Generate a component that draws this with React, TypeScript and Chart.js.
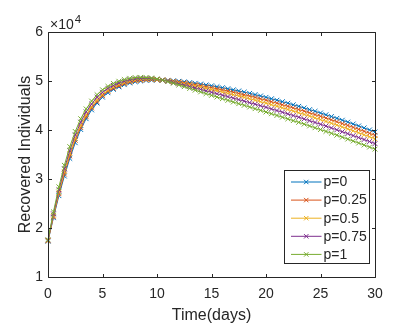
import React, { useEffect, useRef } from "react";
import { Chart, registerables } from "chart.js";

Chart.register(...registerables);

// Time axis (days)
const TIME_DAYS = [
  0, 0.5, 1, 1.5, 2, 2.5, 3, 3.5, 4, 4.5, 5, 5.5, 6, 6.5, 7, 7.5, 8, 8.5, 9, 9.5, 10,
  10.5, 11, 11.5, 12, 12.5, 13, 13.5, 14, 14.5, 15, 15.5, 16, 16.5, 17, 17.5, 18, 18.5, 19, 19.5, 20,
  20.5, 21, 21.5, 22, 22.5, 23, 23.5, 24, 24.5, 25, 25.5, 26, 26.5, 27, 27.5, 28, 28.5, 29, 29.5, 30,
];

// Recovered individuals, in units of 10^4
const P_0 = [
  1.73, 2.21, 2.66, 3.06, 3.42, 3.74, 4.01, 4.23, 4.41, 4.55, 4.67, 4.76, 4.83, 4.88, 4.925, 4.96, 4.985, 5.0, 5.012, 5.018, 5.02,
  5.018, 5.012, 5.004, 4.994, 4.982, 4.968, 4.953, 4.937, 4.92, 4.902, 4.883, 4.863, 4.842, 4.82, 4.797, 4.773, 4.748, 4.722, 4.695, 4.667,
  4.638, 4.608, 4.578, 4.547, 4.515, 4.483, 4.45, 4.416, 4.382, 4.347, 4.311, 4.275, 4.238, 4.2, 4.162, 4.123, 4.083, 4.043, 4.002, 3.96,
];
const P_025 = [
  1.74, 2.23, 2.7, 3.1, 3.47, 3.79, 4.05, 4.27, 4.45, 4.58, 4.7, 4.79, 4.85, 4.9, 4.946, 4.979, 5.002, 5.015, 5.024, 5.027, 5.025,
  5.018, 5.007, 4.994, 4.979, 4.962, 4.944, 4.925, 4.905, 4.884, 4.863, 4.841, 4.818, 4.795, 4.77, 4.745, 4.719, 4.692, 4.665, 4.636, 4.607,
  4.577, 4.546, 4.515, 4.483, 4.45, 4.418, 4.384, 4.349, 4.315, 4.279, 4.243, 4.207, 4.169, 4.131, 4.093, 4.053, 4.013, 3.973, 3.932, 3.89,
];
const P_05 = [
  1.74, 2.26, 2.73, 3.15, 3.52, 3.83, 4.1, 4.31, 4.48, 4.62, 4.73, 4.81, 4.88, 4.93, 4.967, 4.998, 5.019, 5.03, 5.036, 5.036, 5.029,
  5.018, 5.002, 4.984, 4.964, 4.943, 4.92, 4.897, 4.873, 4.849, 4.824, 4.799, 4.773, 4.747, 4.72, 4.693, 4.665, 4.636, 4.607, 4.577, 4.547,
  4.516, 4.484, 4.452, 4.419, 4.385, 4.352, 4.318, 4.283, 4.248, 4.212, 4.175, 4.138, 4.1, 4.062, 4.023, 3.984, 3.943, 3.903, 3.862, 3.82,
];
const P_075 = [
  1.75, 2.29, 2.78, 3.21, 3.58, 3.9, 4.16, 4.37, 4.53, 4.67, 4.77, 4.85, 4.91, 4.96, 4.996, 5.025, 5.043, 5.051, 5.053, 5.048, 5.036,
  5.018, 4.995, 4.97, 4.943, 4.915, 4.886, 4.858, 4.828, 4.799, 4.769, 4.74, 4.71, 4.681, 4.651, 4.62, 4.589, 4.558, 4.527, 4.495, 4.463,
  4.43, 4.397, 4.363, 4.329, 4.295, 4.261, 4.226, 4.19, 4.154, 4.117, 4.08, 4.042, 4.004, 3.965, 3.926, 3.886, 3.846, 3.805, 3.764, 3.722,
];
const P_1 = [
  1.76, 2.33, 2.84, 3.28, 3.66, 3.97, 4.23, 4.43, 4.59, 4.72, 4.82, 4.89, 4.95, 4.995, 5.03, 5.055, 5.07, 5.075, 5.072, 5.062, 5.043,
  5.018, 4.987, 4.954, 4.919, 4.884, 4.848, 4.813, 4.777, 4.742, 4.707, 4.673, 4.639, 4.605, 4.571, 4.537, 4.503, 4.469, 4.435, 4.401, 4.367,
  4.332, 4.297, 4.262, 4.227, 4.191, 4.156, 4.12, 4.083, 4.046, 4.009, 3.971, 3.933, 3.894, 3.854, 3.815, 3.775, 3.734, 3.693, 3.652, 3.61,
];

const SERIES = [P_0, P_025, P_05, P_075, P_1];
const SERIES_LABELS = ["p=0", "p=0.25", "p=0.5", "p=0.75", "p=1"];
const SERIES_COLORS = ["#0072BD", "#D95319", "#EDB120", "#7E2F8E", "#77AC30"];

const X_TICKS = [0, 5, 10, 15, 20, 25, 30];
const Y_TICKS = [1, 2, 3, 4, 5, 6];
const Y_EXPONENT = "4";
const X_TITLE = "Time(days)";
const Y_TITLE = "Recovered Individuals";

const FONT_FAMILY = "'Liberation Sans', Arial, Helvetica, sans-serif";
const AXIS_COLOR = "#262626";

const matlabFrame = {
  id: "matlabFrame",
  afterDatasetsDraw(chart: any) {
    const { ctx, chartArea: a, scales } = chart;
    const xs = scales.x;
    const ys = scales.y;
    const L = Math.round(a.left) + 0.5;
    const R = Math.round(a.right) + 0.5;
    const T = Math.round(a.top) + 0.5;
    const B = Math.round(a.bottom) + 0.5;
    const TICK = 3.5;
    ctx.save();
    ctx.strokeStyle = AXIS_COLOR;
    ctx.lineWidth = 1;
    ctx.beginPath();
    ctx.rect(L, T, R - L, B - T);
    X_TICKS.forEach((v) => {
      const px = Math.round(xs.getPixelForValue(v)) + 0.5;
      ctx.moveTo(px, B);
      ctx.lineTo(px, B - TICK);
      ctx.moveTo(px, T);
      ctx.lineTo(px, T + TICK);
    });
    Y_TICKS.forEach((v) => {
      const py = Math.round(ys.getPixelForValue(v)) + 0.5;
      ctx.moveTo(L, py);
      ctx.lineTo(L + TICK, py);
      ctx.moveTo(R, py);
      ctx.lineTo(R - TICK, py);
    });
    ctx.stroke();

    // exponent label
    ctx.fillStyle = AXIS_COLOR;
    ctx.textBaseline = "alphabetic";
    ctx.textAlign = "left";
    ctx.font = `14px ${FONT_FAMILY}`;
    const base = "\u00d710";
    ctx.fillText(base, a.left + 2, a.top - 3.5);
    const w = ctx.measureText(base).width;
    ctx.font = `11.5px ${FONT_FAMILY}`;
    ctx.fillText(Y_EXPONENT, a.left + 2 + w + 1, a.top - 9);

    // legend box
    const lw = 85;
    const lh = 93;
    const lx = Math.round(a.right - 6 - lw) + 0.5;
    const ly = Math.round(a.bottom - 14 - lh) + 0.5;
    ctx.fillStyle = "#ffffff";
    ctx.fillRect(lx, ly, lw, lh);
    ctx.strokeStyle = AXIS_COLOR;
    ctx.strokeRect(lx, ly, lw, lh);
    ctx.font = `14px ${FONT_FAMILY}`;
    ctx.textBaseline = "middle";
    SERIES_LABELS.forEach((label, i) => {
      const cy = ly + 11.5 + i * 18.1;
      const x0 = lx + 6.5;
      const x1 = lx + 37;
      const cx = (x0 + x1) / 2;
      ctx.strokeStyle = SERIES_COLORS[i];
      ctx.lineWidth = 1;
      ctx.beginPath();
      ctx.moveTo(x0, cy);
      ctx.lineTo(x1, cy);
      const m = 2.2;
      ctx.moveTo(cx - m, cy - m);
      ctx.lineTo(cx + m, cy + m);
      ctx.moveTo(cx - m, cy + m);
      ctx.lineTo(cx + m, cy - m);
      ctx.stroke();
      ctx.fillStyle = AXIS_COLOR;
      ctx.fillText(label, lx + 39, cy + 0.5);
    });
    ctx.restore();
  },
};

export default function App() {
  const canvasRef = useRef<HTMLCanvasElement | null>(null);

  useEffect(() => {
    const canvas = canvasRef.current;
    if (!canvas) return;
    const datasets = SERIES.map((vals, i) => ({
      label: SERIES_LABELS[i],
      data: TIME_DAYS.map((t, j) => ({ x: t, y: vals[j] })),
      borderColor: SERIES_COLORS[i],
      backgroundColor: SERIES_COLORS[i],
      pointBorderColor: SERIES_COLORS[i],
      pointBackgroundColor: SERIES_COLORS[i],
      borderWidth: 1,
      pointStyle: "crossRot",
      pointRadius: 3.4,
      pointBorderWidth: 1,
      tension: 0,
      fill: false,
      clip: 4,
      order: SERIES.length - i,
    }));

    const tickFont = { family: FONT_FAMILY, size: 14 };
    const titleFont = { family: FONT_FAMILY, size: 16 };

    const chart = new Chart(canvas, {
      type: "line",
      data: { datasets },
      options: {
        animation: false,
        responsive: false,
        devicePixelRatio: 1,
        layout: { padding: { top: 32, right: 21, left: 0, bottom: 0 } },
        plugins: { legend: { display: false }, tooltip: { enabled: false } },
        scales: {
          x: {
            type: "linear",
            min: 0,
            max: 30,
            afterBuildTicks: (s: any) => {
              s.ticks = X_TICKS.map((v) => ({ value: v }));
            },
            afterFit: (s: any) => {
              s.height = 50;
            },
            ticks: { font: tickFont, color: AXIS_COLOR, padding: 9, maxRotation: 0, autoSkip: false },
            grid: { display: false, drawTicks: false },
            border: { display: false },
            title: {
              display: true,
              text: X_TITLE,
              font: titleFont,
              color: AXIS_COLOR,
              padding: { top: 0, bottom: 2 },
            },
          },
          y: {
            type: "linear",
            min: 1,
            max: 6,
            afterBuildTicks: (s: any) => {
              s.ticks = Y_TICKS.map((v) => ({ value: v }));
            },
            afterFit: (s: any) => {
              s.width = 48;
            },
            ticks: { font: tickFont, color: AXIS_COLOR, padding: 5 },
            grid: { display: false, drawTicks: false },
            border: { display: false },
            title: {
              display: true,
              text: Y_TITLE,
              font: titleFont,
              color: AXIS_COLOR,
              padding: { top: 16, bottom: 0 },
            },
          },
        },
      } as any,
      plugins: [matlabFrame],
    });
    return () => chart.destroy();
  }, []);

  return (
    <div
      style={{
        position: "fixed",
        left: 0,
        top: 0,
        width: 396,
        height: 327,
        background: "#ffffff",
      }}
    >
      <canvas ref={canvasRef} width={396} height={327} style={{ display: "block" }} />
    </div>
  );
}
